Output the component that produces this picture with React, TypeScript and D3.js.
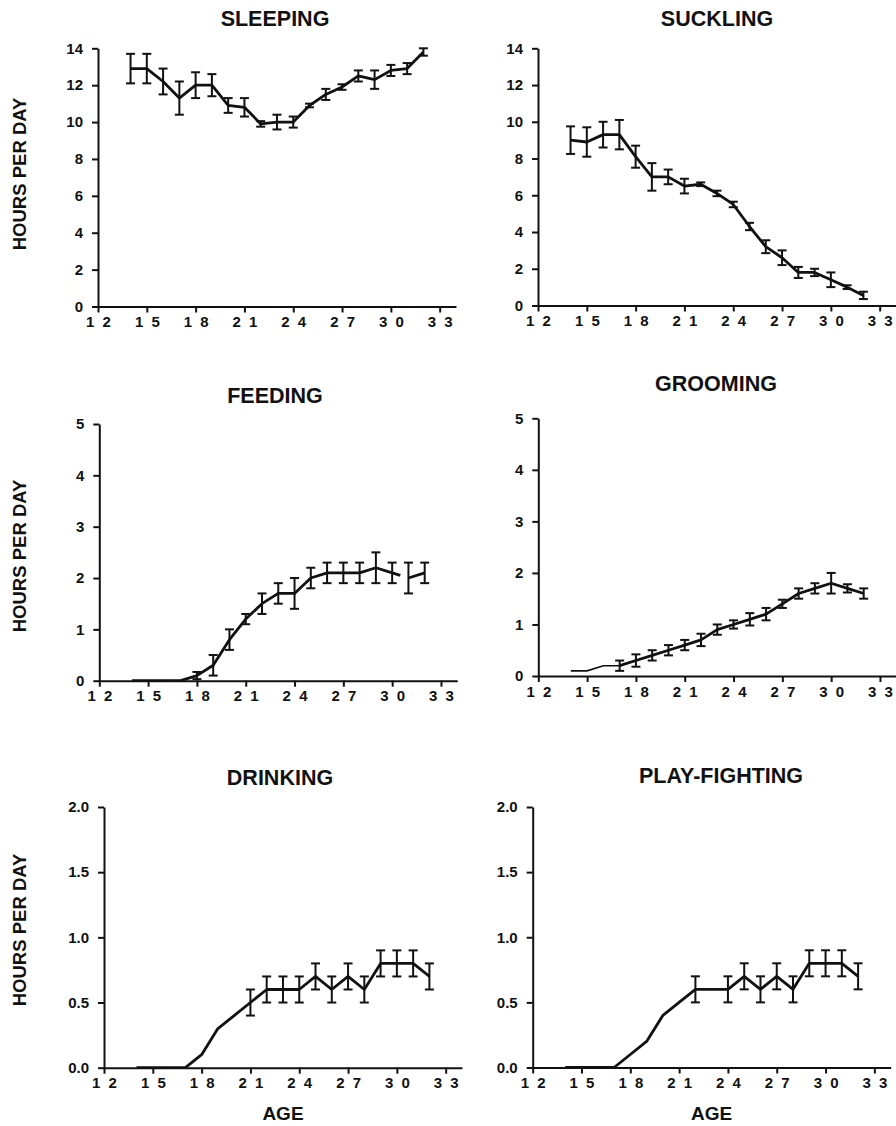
import React, { useEffect, useRef } from "react";
import * as d3 from "d3";

const FONT = "'Liberation Sans', Arial, Helvetica, sans-serif";

// ages in days, one value per age
const ages = [14, 15, 16, 17, 18, 19, 20, 21, 22, 23, 24, 25, 26, 27, 28, 29, 30, 31, 32];
const ageTicks = [12, 15, 18, 21, 24, 27, 30, 33];

const sleepingMean = [12.9, 12.9, 12.2, 11.3, 12.0, 12.0, 10.9, 10.8, 9.9, 10.0, 10.0, 10.9, 11.5, 11.9, 12.5, 12.3, 12.8, 12.9, 13.8];
const sleepingErr = [0.8, 0.8, 0.7, 0.9, 0.7, 0.6, 0.4, 0.5, 0.15, 0.4, 0.3, 0.1, 0.3, 0.15, 0.3, 0.5, 0.3, 0.3, 0.2];

const sucklingMean = [9.0, 8.9, 9.3, 9.3, 8.1, 7.0, 7.0, 6.5, 6.6, 6.1, 5.5, 4.3, 3.2, 2.6, 1.8, 1.8, 1.4, 1.0, 0.55];
const sucklingErr = [0.75, 0.8, 0.7, 0.8, 0.6, 0.75, 0.4, 0.4, 0.1, 0.15, 0.15, 0.2, 0.35, 0.4, 0.3, 0.2, 0.4, 0.1, 0.2];

const feedingMean = [0, 0, 0, 0, 0.1, 0.3, 0.8, 1.2, 1.5, 1.7, 1.7, 2.0, 2.1, 2.1, 2.1, 2.2, 2.1, 2.0, 2.1];
const feedingErr = [null, null, null, null, 0.07, 0.2, 0.2, 0.1, 0.2, 0.2, 0.3, 0.2, 0.2, 0.2, 0.2, 0.3, 0.2, 0.3, 0.2];
const feedingBreaks = [30]; // line not joined between 30 and 31

const groomingMean = [0.1, 0.1, 0.2, 0.2, 0.3, 0.4, 0.5, 0.6, 0.7, 0.9, 1.0, 1.1, 1.2, 1.4, 1.6, 1.7, 1.8, 1.7, 1.6];
const groomingErr = [null, null, null, 0.1, 0.12, 0.1, 0.1, 0.1, 0.12, 0.1, 0.08, 0.12, 0.12, 0.08, 0.1, 0.1, 0.2, 0.08, 0.1];

const drinkingMean = [0, 0, 0, 0, 0.1, 0.3, 0.4, 0.5, 0.6, 0.6, 0.6, 0.7, 0.6, 0.7, 0.6, 0.8, 0.8, 0.8, 0.7];
const drinkingErr = [null, null, null, null, null, null, null, 0.1, 0.1, 0.1, 0.1, 0.1, 0.1, 0.1, 0.1, 0.1, 0.1, 0.1, 0.1];

const playMean = [0, 0, 0, 0, 0.1, 0.2, 0.4, 0.5, 0.6, null, 0.6, 0.7, 0.6, 0.7, 0.6, 0.8, 0.8, 0.8, 0.7];
const playErr = [null, null, null, null, null, null, null, null, 0.1, null, 0.1, 0.1, 0.1, 0.1, 0.1, 0.1, 0.1, 0.1, 0.1];

const panels = [
  { title: "SLEEPING", mean: sleepingMean, err: sleepingErr, yMax: 14, yTicks: d3.range(0, 15, 2), fmt: "d",
    x0: 98, y0: 306.5, yTop: 48.3, tx: 275, ty: 26, yLabel: 174 },
  { title: "SUCKLING", mean: sucklingMean, err: sucklingErr, yMax: 14, yTicks: d3.range(0, 15, 2), fmt: "d",
    x0: 538, y0: 305.5, yTop: 48.3, tx: 717, ty: 26 },
  { title: "FEEDING", mean: feedingMean, err: feedingErr, breaks: feedingBreaks, yMax: 5, yTicks: d3.range(0, 6), fmt: "d",
    x0: 99.3, y0: 680.7, yTop: 424, tx: 275, ty: 403, yLabel: 556 },
  { title: "GROOMING", mean: groomingMean, err: groomingErr, thinBefore: 17, yMax: 5, yTicks: d3.range(0, 6), fmt: "d",
    x0: 538.3, y0: 676, yTop: 418.3, tx: 716, ty: 391 },
  { title: "DRINKING", mean: drinkingMean, err: drinkingErr, yMax: 2, yTicks: [0, 0.5, 1, 1.5, 2], fmt: ".1f",
    x0: 104, y0: 1067.7, yTop: 807, tx: 280, ty: 785, yLabel: 930, age: true },
  { title: "PLAY-FIGHTING", mean: playMean, err: playErr, yMax: 2, yTicks: [0, 0.5, 1, 1.5, 2], fmt: ".1f",
    x0: 532.7, y0: 1067.5, yTop: 807, tx: 721, ty: 783, age: true },
];

function Panel({ p }) {
  const xRef = useRef(null);
  const yRef = useRef(null);
  const x = d3.scaleLinear().domain([12, 34]).range([p.x0, p.x0 + 22 * 16.27]);
  const y = d3.scaleLinear().domain([0, p.yMax]).range([p.y0, p.yTop]);

  useEffect(() => {
    const xa = d3.axisBottom(x).tickValues(ageTicks).tickSize(6).tickSizeOuter(0).tickPadding(4)
      .tickFormat((d) => String(d).split("").join(" "));
    const ya = d3.axisLeft(y).tickValues(p.yTicks).tickSize(6).tickSizeOuter(0).tickPadding(9)
      .tickFormat(d3.format(p.fmt));
    [d3.select(xRef.current).call(xa), d3.select(yRef.current).call(ya)].forEach((g) => {
      g.attr("font-family", FONT).attr("font-size", 15).attr("font-weight", "bold");
      g.selectAll("path, line").attr("stroke", "#111").attr("stroke-width", 2);
      g.selectAll("text").attr("fill", "#111");
    });
    d3.select(xRef.current).selectAll("text").attr("letter-spacing", 2).attr("dx", 1);
  }, []);

  const pts = ages.map((a, i) => ({ age: a, v: p.mean[i], e: p.err[i] })).filter((d) => d.v != null);
  const breaks = p.breaks || [];
  const segs = [[]];
  pts.forEach((d) => {
    segs[segs.length - 1].push(d);
    if (breaks.includes(d.age)) segs.push([]);
  });
  const line = d3.line().x((d) => x(d.age)).y((d) => y(d.v));

  const stubs = breaks.map((b) => {
    const i = pts.findIndex((d) => d.age === b);
    const a = pts[i], n = pts[i + 1];
    return [a, { age: (a.age + n.age) / 2, v: (a.v + n.v) / 2 }];
  });

  return (
    <g>
      <text x={p.tx} y={p.ty} textAnchor="middle" fontFamily={FONT} fontWeight="bold" fontSize={21.5} fill="#111">
        {p.title}
      </text>
      {p.yLabel && (
        <text transform={`translate(26,${p.yLabel}) rotate(-90)`} textAnchor="middle" fontFamily={FONT}
          fontWeight="bold" fontSize={18.5} fill="#111">
          HOURS PER DAY
        </text>
      )}
      {p.age && (
        <text x={x(23)} y={1120} textAnchor="middle" fontFamily={FONT} fontWeight="bold" fontSize={19} fill="#111">
          AGE
        </text>
      )}
      <g ref={xRef} transform={`translate(0,${p.y0})`} />
      <g ref={yRef} transform={`translate(${p.x0},0)`} />
      {segs.map((s, i) => {
        if (p.thinBefore) {
          const thin = s.filter((d) => d.age <= p.thinBefore);
          const thick = s.filter((d) => d.age >= p.thinBefore);
          return (
            <g key={i}>
              <path d={line(thin)} fill="none" stroke="#111" strokeWidth={1.6} />
              <path d={line(thick)} fill="none" stroke="#111" strokeWidth={2.8} strokeLinejoin="round" />
            </g>
          );
        }
        return <path key={i} d={line(s)} fill="none" stroke="#111" strokeWidth={2.8} strokeLinejoin="round" />;
      })}
      {stubs.map((s, i) => (
        <path key={"s" + i} d={line(s)} fill="none" stroke="#111" strokeWidth={2.8} />
      ))}
      {pts.filter((d) => d.e != null).map((d, i) => {
        const cx = x(d.age);
        const y1 = y(d.v + d.e), y2 = y(d.v - d.e);
        return (
          <g key={"e" + i} stroke="#111" strokeWidth={2}>
            <line x1={cx} x2={cx} y1={y1} y2={y2} />
            <line x1={cx - 4.5} x2={cx + 4.5} y1={y1} y2={y1} />
            <line x1={cx - 4.5} x2={cx + 4.5} y1={y2} y2={y2} />
          </g>
        );
      })}
    </g>
  );
}

export default function App() {
  return (
    <svg width={896} height={1126} style={{ position: "absolute", left: 0, top: 0, background: "#fff" }}>
      <rect width={896} height={1126} fill="#fff" />
      {panels.map((p) => (
        <Panel key={p.title} p={p} />
      ))}
    </svg>
  );
}
